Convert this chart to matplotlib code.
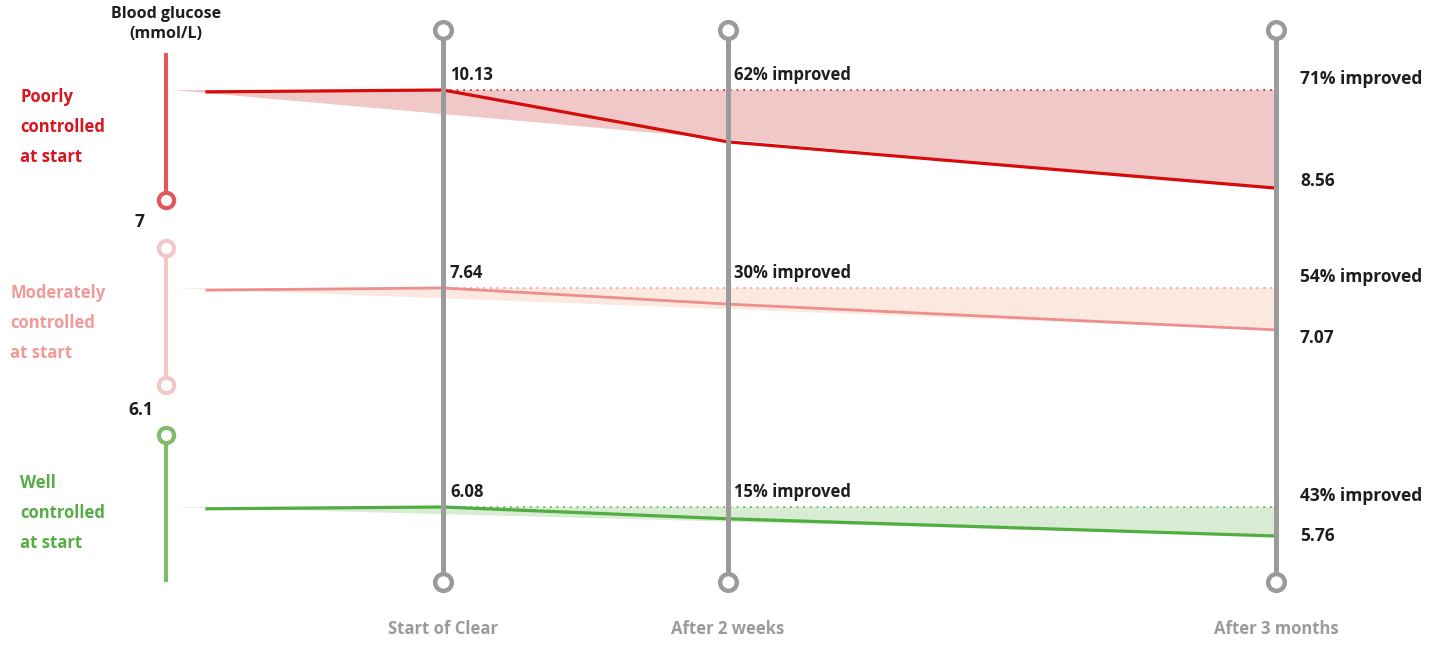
#!/usr/bin/env python3
"""Blood glucose change after starting Clear, split by control at start."""

import matplotlib.pyplot as plt

plt.rcParams["font.family"] = ["Open Sans", "DejaVu Sans"]

# ---- data -------------------------------------------------------------
timepoints = ["Start of Clear", "After 2 weeks", "After 3 months"]
group_labels = ["Poorly\ncontrolled\nat start",
                "Moderately\ncontrolled\nat start",
                "Well\ncontrolled\nat start"]

# mmol/L just before, at start, after 2 weeks, after 3 months
lead_in = [10.10, 7.61, 6.06]
glucose_poor = [10.13, 9.30, 8.56]
glucose_moderate = [7.64, 7.42, 7.07]
glucose_well = [6.08, 5.95, 5.76]

# share of people improved (2 weeks, 3 months)
improved_poor = [62, 71]
improved_moderate = [30, 54]
improved_well = [15, 43]

band_edges = ["7", "6.1"]

# ---- layout (pixel units on a 1442 x 645 canvas) ----------------------
W, H = 1442, 645
X_TIME = [443, 728, 1276]
X_LEAD = 207
X_FILL = 172
X_DOT = 390
X_RIGHT = 1300
X_SCALE = 166

GREY = "#9b9b9b"
INK = "#1e1e1e"
bands = [
    dict(top=60, height=160, ylim=(8.05, 10.61), line="#d60b0b",
         fill="#f0c8c8", text="#d8141c", lw=2.3, end_dy=5),
    dict(top=260, height=100, ylim=(6.66, 8.02), line="#ee8e8e",
         fill="#fbe9df", text="#f09a9a", lw=2.0, end_dy=-6),
    dict(top=480, height=80, ylim=(5.495, 6.378), line="#4fae3f",
         fill="#d7ecd3", text="#56ad45", lw=2.3, end_dy=0),
]
series = [glucose_poor, glucose_moderate, glucose_well]
improved = [improved_poor, improved_moderate, improved_well]

fig = plt.figure(figsize=(W / 100, H / 100), dpi=100)
fig.patch.set_facecolor("white")

bg = fig.add_axes([0, 0, 1, 1])
bg.set_xlim(0, W)
bg.set_ylim(H, 0)
bg.axis("off")

# left scale: axis title, coloured range bars, thresholds
bg.text(X_SCALE, 14, "Blood glucose", ha="center", va="center",
        fontsize=11.5, fontweight="bold", color=INK)
bg.text(X_SCALE, 34, "(mmol/L)", ha="center", va="center",
        fontsize=11.5, fontweight="bold", color=INK)

ring = dict(marker="o", markersize=11, markerfacecolor="white",
            markeredgewidth=3.0, linestyle="none", zorder=3)
bg.plot([X_SCALE, X_SCALE], [55, 198], color="#e0585e", lw=3, zorder=2)
bg.plot([X_SCALE], [200], markeredgecolor="#e0585e", **ring)
bg.plot([X_SCALE, X_SCALE], [248, 385], color="#f4c7c7", lw=3, zorder=2)
bg.plot([X_SCALE, X_SCALE], [248, 385], markeredgecolor="#f4c7c7", **ring)
bg.plot([X_SCALE, X_SCALE], [435, 580], color="#7fbc6c", lw=3, zorder=2)
bg.plot([X_SCALE], [435], markeredgecolor="#7fbc6c", **ring)

bg.text(139, 222, band_edges[0], ha="center", va="center",
        fontsize=12.5, fontweight="bold", color=INK)
bg.text(141, 410, band_edges[1], ha="center", va="center",
        fontsize=12.5, fontweight="bold", color=INK)

label_pos = [(20, 97), (10, 293), (20, 483)]
for (lx, ly), txt, b in zip(label_pos, group_labels, bands):
    for k, part in enumerate(txt.split("\n")):
        bg.text(lx, ly + 30 * k, part, ha="left", va="center",
                fontsize=12, fontweight="bold", color=b["text"])

for x, name in zip(X_TIME, timepoints):
    bg.text(x, 629, name, ha="center", va="center", fontsize=12,
            fontweight="bold", color=GREY)

# one axes per band, each with its own glucose scale
for b, vals, imp, lead in zip(bands, series, improved, lead_in):
    ax = fig.add_axes([0, 1 - (b["top"] + b["height"]) / H, 1, b["height"] / H])
    ax.set_xlim(0, W)
    ax.set_ylim(*b["ylim"])
    ax.axis("off")
    ax.patch.set_visible(False)

    start, end = vals[0], vals[-1]
    ax.fill([X_FILL, X_TIME[-1], X_TIME[-1]], [start, start, end],
            color=b["fill"], lw=0, zorder=1)
    ax.plot([X_DOT, X_TIME[-1]], [start, start], color=b["line"],
            lw=1.2, ls=(0, (1, 3)), zorder=2)
    ax.plot([X_LEAD] + X_TIME, [lead] + vals, color=b["line"],
            lw=b["lw"], solid_joinstyle="round", zorder=3)

    ax.annotate(f"{start:.2f}", (X_TIME[0], start), xytext=(5, 11),
                textcoords="offset points", ha="left", va="center",
                fontsize=12, fontweight="bold", color=INK)
    ax.annotate(f"{imp[0]}% improved", (X_TIME[1], start), xytext=(4, 11),
                textcoords="offset points", ha="left", va="center",
                fontsize=12, fontweight="bold", color=INK)
    ax.annotate(f"{imp[1]}% improved", (X_RIGHT, start), xytext=(0, 8),
                textcoords="offset points", ha="left", va="center",
                fontsize=12.5, fontweight="bold", color=INK)
    ax.annotate(f"{end:.2f}", (X_RIGHT, end), xytext=(0, b["end_dy"]),
                textcoords="offset points", ha="left", va="center",
                fontsize=12.5, fontweight="bold", color=INK)

# grey timeline posts drawn over the bands
top = fig.add_axes([0, 0, 1, 1], zorder=5)
top.set_xlim(0, W)
top.set_ylim(H, 0)
top.axis("off")
top.patch.set_visible(False)
for x in X_TIME:
    top.plot([x, x], [30, 582], color=GREY, lw=3.6, zorder=1)
    top.plot([x, x], [30, 582], marker="o", markersize=12,
             markerfacecolor="white", markeredgecolor=GREY,
             markeredgewidth=3.2, linestyle="none", zorder=2)

fig.savefig("out.png", dpi=100, facecolor="white")
